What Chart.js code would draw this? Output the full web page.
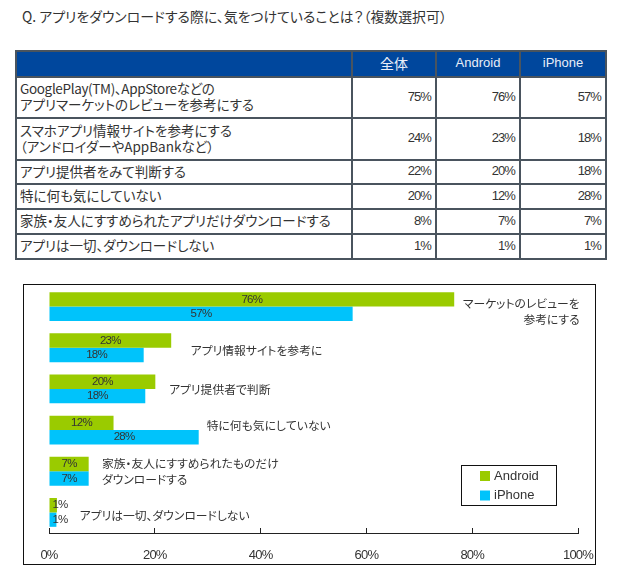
<!DOCTYPE html>
<html lang="ja">
<head>
<meta charset="utf-8">
<script src="https://cdn.jsdelivr.net/npm/chart.js@4/dist/chart.umd.min.js"></script>
<style>
html,body{margin:0;padding:0;background:#fff;width:620px;height:587px;overflow:hidden;font-family:"Noto Sans CJK JP","Noto Sans",sans-serif;color:#333;font-feature-settings:"palt";}
#title{position:absolute;left:22px;top:7px;font-size:13.9px;line-height:18px;white-space:nowrap;}
table{position:absolute;left:15px;top:50px;width:590px;height:208px;border-collapse:collapse;table-layout:fixed;font-size:13.5px;line-height:16px;}
td,th{border:2px solid #4a545e;padding:0 3px;box-sizing:border-box;}
th{background:#00479d;color:#e8eef8;font-weight:400;font-size:14px;padding-bottom:2px;}
th.l{font-family:"Liberation Sans",sans-serif;font-size:13px;}
td.n{text-align:right;font-family:"Liberation Sans",sans-serif;font-size:13px;letter-spacing:-.9px;padding-bottom:2px;padding-right:4px;}
td.c{white-space:nowrap;padding-bottom:3px;}
td.c span{letter-spacing:-.35px;}
#box{position:absolute;left:23px;top:284px;width:573px;height:281px;box-sizing:border-box;border:1px solid #111;}
#box canvas{display:block;}
</style>
</head>
<body>
<div id="title"></div>
<table id="t"></table>
<div id="box"><canvas id="c" width="571" height="279"></canvas></div>
<script>
const titleText = "Q. アプリをダウンロードする際に、気をつけていることは？（複数選択可）";
const tableHeaders = ["", "全体", "Android", "iPhone"];
const tableRows = [
  ["<span>GooglePlay(TM)、AppStoreなどの</span><br>アプリマーケットのレビューを参考にする", "75%", "76%", "57%"],
  ["スマホアプリ情報サイトを参考にする<br>（アンドロイダーやAppBankなど）", "24%", "23%", "18%"],
  ["アプリ提供者をみて判断する", "22%", "20%", "18%"],
  ["特に何も気にしていない", "20%", "12%", "28%"],
  ["家族・友人にすすめられたアプリだけダウンロードする", "8%", "7%", "7%"],
  ["アプリは一切、ダウンロードしない", "1%", "1%", "1%"]
];
const categories = ["マーケットのレビューを参考にする","アプリ情報サイトを参考に","アプリ提供者で判断","特に何も気にしていない","家族・友人にすすめられたものだけダウンロードする","アプリは一切、ダウンロードしない"];
const calloutLines = [["マーケットのレビューを","参考にする"],["アプリ情報サイトを参考に"],["アプリ提供者で判断"],["特に何も気にしていない"],["家族・友人にすすめられたものだけ","ダウンロードする"],["アプリは一切、ダウンロードしない"]];
const androidValues = [76.6, 23.1, 20.1, 12.2, 7.5, 1.5];
const iphoneValues = [57.4, 17.9, 18.2, 28.3, 7.5, 1.4];
const androidLabels = ["76%","23%","20%","12%","7%","1%"];
const iphoneLabels = ["57%","18%","18%","28%","7%","1%"];
const xTicks = [0,20,40,60,80,100];
const GREEN = "#9acb00", BLUE = "#00c3fb", INK = "#333";
const FONT = '"Noto Sans CJK JP","Noto Sans",sans-serif';
const LATIN = '"Liberation Sans",sans-serif';

document.getElementById("title").textContent = titleText;
const colW = [336,84,84,86];
const rowH = [26,41,42,24,25,25,25];
let html = "<colgroup>"+colW.map(w=>`<col style="width:${w}px">`).join("")+"</colgroup>";
html += `<tr style="height:${rowH[0]}px">`+tableHeaders.map((h,j)=>`<th class="${j>1?'l':''}">${h}</th>`).join("")+"</tr>";
tableRows.forEach((r,i)=>{ html += `<tr style="height:${rowH[i+1]}px">`+r.map((v,j)=>`<td class="${j?'n':'c'}">${v}</td>`).join("")+"</tr>"; });
document.getElementById("t").innerHTML = html;

// callout anchor in axis units (%), alignment and vertical nudge in px per category
const calloutAnchor = [[100.3,"right",5],[26.8,"left",3],[22.7,"left",1],[29.8,"left",-5],[10,"left",0],[5.8,"left",3]];
const annotate = {
  id:"annotate",
  beforeDraw(chart){ chart.ctx.letterSpacing = "-0.8px"; },
  afterDatasetsDraw(chart){
    const {ctx,scales:{x,y}} = chart;
    ctx.save();
    ctx.fillStyle = INK;
    ctx.textBaseline = "middle";
    ctx.font = "11.5px "+LATIN;
    ctx.letterSpacing = "-0.7px";
    ctx.textAlign = "center";
    chart.data.datasets.forEach((ds,di)=>{
      chart.getDatasetMeta(di).data.forEach((bar,i)=>{
        const w = bar.x - bar.base;
        const cx = w < 20 ? bar.base + 10.5 : (bar.x + bar.base)/2;
        ctx.fillText(ds.valueLabels[i], cx, bar.y);
      });
    });
    ctx.letterSpacing = "0px";
    ctx.font = "11.8px "+FONT;
    calloutLines.forEach((lines,i)=>{
      const [a,al,dy] = calloutAnchor[i];
      ctx.textAlign = al;
      const cy = y.getPixelForValue(i);
      lines.forEach((s,k)=>{
        ctx.fillText(s, x.getPixelForValue(a), cy + dy + (k-(lines.length-1)/2)*16.3);
      });
    });
    // legend frame
    const b = {l:437, t:180, w:95, h:40};
    ctx.strokeStyle = "#111"; ctx.lineWidth = 1;
    ctx.strokeRect(b.l+.5,b.t+.5,b.w,b.h);
    chart.data.datasets.forEach((ds,i)=>{
      const yy = b.t + 11 + i*19.5;
      ctx.fillStyle = ds.backgroundColor;
      ctx.fillRect(b.l+19, yy-5, 10, 10);
      ctx.fillStyle = INK;
      ctx.textAlign = "left";
      ctx.font = "13px "+LATIN;
      ctx.fillText(ds.label, b.l+33, yy);
    });
    ctx.restore();
  }
};

new Chart(document.getElementById("c"),{
  type:"bar",
  data:{labels:categories,datasets:[
    {label:"Android",data:androidValues,valueLabels:androidLabels,backgroundColor:GREEN,barPercentage:1,categoryPercentage:.7},
    {label:"iPhone",data:iphoneValues,valueLabels:iphoneLabels,backgroundColor:BLUE,barPercentage:1,categoryPercentage:.7}
  ]},
  plugins:[annotate],
  options:{
    indexAxis:"y",responsive:false,animation:false,devicePixelRatio:1,
    layout:{padding:{left:25,right:17,top:1,bottom:0}},
    plugins:{legend:{display:false},tooltip:{enabled:false},title:{display:false}},
    scales:{
      y:{display:false,type:"category"},
      x:{
        type:"linear",min:0,max:100,
        afterBuildTicks(s){s.ticks = xTicks.map(v=>({value:v}));},
        afterFit(s){s.height = 31; s.paddingLeft = 0; s.paddingRight = 0;},
        grid:{drawOnChartArea:false,tickLength:-5,tickColor:"#222",tickWidth:1},
        border:{color:"#222",width:1},
        ticks:{padding:20,maxRotation:0,autoSkip:false,color:INK,font:{family:LATIN,size:13},callback:v=>v+"%"}
      }
    }
  }
});
</script>
</body>
</html>
